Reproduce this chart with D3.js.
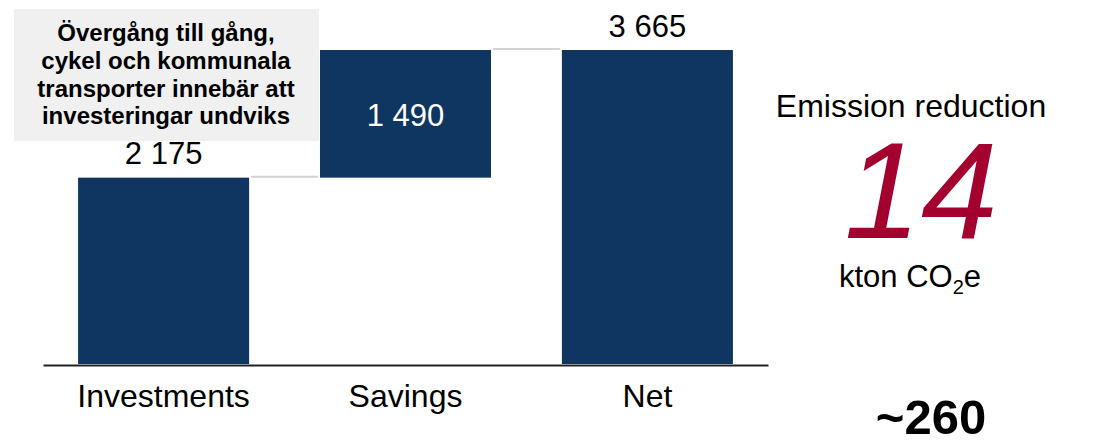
<!DOCTYPE html>
<html>
<head>
<meta charset="utf-8">
<script src="https://cdn.jsdelivr.net/npm/d3@7"></script>
<style>
  html, body { margin: 0; padding: 0; background: #fff; }
  svg { display: block; font-family: "Liberation Sans", Arial, sans-serif; }
</style>
</head>
<body>
<svg id="chart" width="1093" height="441"></svg>
<script>
// Waterfall data (kSEK)
const categories = ["Investments", "Savings", "Net"];
const values = [2175, 1490, 3665];
const barKinds = ["start", "delta", "total"];

// Callout text above the first bar
const noteLines = [
  "Övergång till gång,",
  "cykel och kommunala",
  "transporter innebär att",
  "investeringar undviks"
];

// Side panel text
const sideTitle = "Emission reduction";
const sideValue = "14";
const sideUnit = ["kton CO", "2", "e"];
const sideFootnote = "~260";

const barColor = "#0e3660";
const connectorColor = "#d2d2d2";
const accent = "#a3002f";

const svg = d3.select("#chart");
const baseY = 364;

// Build floating segments for the waterfall
let running = 0;
const bars = categories.map((c, i) => {
  let y0, y1;
  if (barKinds[i] === "total") { y0 = 0; y1 = values[i]; running = values[i]; }
  else { y0 = running; y1 = running + values[i]; running = y1; }
  return { cat: c, value: values[i], y0, y1, kind: barKinds[i] };
});

const x = d3.scaleBand()
  .domain(categories)
  .range([43, 768])
  .paddingInner(0.293)
  .paddingOuter(0.145);

const y = d3.scaleLinear()
  .domain([0, d3.max(bars, d => d.y1)])
  .range([baseY, 50]);

const fmt = d3.formatLocale({ decimal: ",", thousands: " ", grouping: [3], currency: ["", ""] }).format(",");

// Connector lines between consecutive bars
const connectors = bars.slice(0, -1).map((d, i) => ({
  x1: x(d.cat) + x.bandwidth() + 2,
  x2: x(bars[i + 1].cat) - 2,
  level: d.y1
}));
svg.append("g").selectAll("line").data(connectors).join("line")
  .attr("x1", d => d.x1).attr("x2", d => d.x2)
  .attr("y1", d => y(d.level) - 1).attr("y2", d => y(d.level) - 1)
  .attr("stroke", connectorColor).attr("stroke-width", 2);

// Bars
svg.append("g").selectAll("rect").data(bars).join("rect")
  .attr("x", d => x(d.cat))
  .attr("width", x.bandwidth())
  .attr("y", d => y(d.y1))
  .attr("height", d => y(d.y0) - y(d.y1))
  .attr("fill", barColor);

// Value labels: above the bar for start/total, inside for the delta
svg.append("g").selectAll("text").data(bars).join("text")
  .attr("x", d => x(d.cat) + x.bandwidth() / 2)
  .attr("y", d => d.kind === "delta" ? (y(d.y0) + y(d.y1)) / 2 + 12.5 : y(d.y1) - 13.5)
  .attr("text-anchor", "middle")
  .attr("font-size", 31)
  .attr("fill", d => d.kind === "delta" ? "#fff" : "#000")
  .text(d => fmt(d.value));

// Category axis
const axis = svg.append("g")
  .attr("transform", `translate(0,${baseY + 1})`)
  .call(d3.axisBottom(x).tickSize(0).tickSizeOuter(0).tickPadding(19));
axis.select(".domain").attr("stroke", "#222").attr("stroke-width", 2);
axis.selectAll(".tick text")
  .attr("font-size", 32)
  .attr("font-family", "'Liberation Sans', Arial, sans-serif")
  .attr("fill", "#000");

// Callout box
const note = svg.append("g");
note.append("rect")
  .attr("x", 14).attr("y", 9).attr("width", 305).attr("height", 132)
  .attr("fill", "#f0f0f0");
note.selectAll("text").data(noteLines).join("text")
  .attr("x", 166)
  .attr("y", (d, i) => 41 + i * 27.8)
  .attr("text-anchor", "middle")
  .attr("font-size", 24)
  .attr("font-weight", "bold")
  .attr("fill", "#000")
  .text(d => d);

// Side panel
const side = svg.append("g");
side.append("text")
  .attr("x", 911).attr("y", 117)
  .attr("text-anchor", "middle")
  .attr("font-size", 32)
  .text(sideTitle);
side.append("text")
  .attr("x", 921).attr("y", 238)
  .attr("text-anchor", "middle")
  .attr("font-size", 138)
  .attr("font-style", "italic")
  .attr("fill", accent)
  .text(sideValue);
const unit = side.append("text")
  .attr("x", 910).attr("y", 287)
  .attr("text-anchor", "middle")
  .attr("font-size", 31);
unit.append("tspan").text(sideUnit[0]);
unit.append("tspan").attr("font-size", 20).attr("dy", 7).text(sideUnit[1]);
unit.append("tspan").attr("dy", -7).text(sideUnit[2]);
side.append("text")
  .attr("x", 931).attr("y", 434)
  .attr("text-anchor", "middle")
  .attr("font-size", 49)
  .attr("font-weight", "bold")
  .text(sideFootnote);
</script>
</body>
</html>
